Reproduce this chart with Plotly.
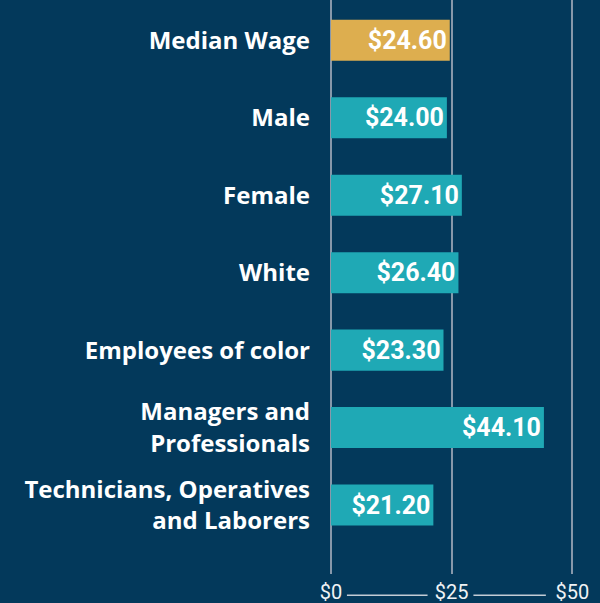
import plotly.graph_objects as go

categorias = ["Median Wage", "Male", "Female", "White", "Employees of color",
              "Managers and<br>Professionals", "Technicians, Operatives<br>and Laborers"]
salarios = [24.60, 24.00, 27.10, 26.40, 23.30, 44.10, 21.20]
etiquetas = ["$24.60", "$24.00", "$27.10", "$26.40", "$23.30", "$44.10", "$21.20"]
ticks_x = [0, 25, 50]
ticks_txt = ["$0", "$25", "$50"]

fondo = "#03395b"
colores = ["#ddae4f"] + ["#1fa9b5"] * (len(salarios) - 1)

fig = go.Figure()

fig.add_trace(go.Bar(
    x=salarios, y=categorias, orientation="h",
    marker=dict(color=colores, line=dict(width=0)),
    text=etiquetas, textposition="inside", insidetextanchor="end",
    textfont=dict(family="Roboto", size=25, color="white", weight="bold"),
    cliponaxis=False, showlegend=False,
))

# rayitas entre las etiquetas del eje x
for x0, x1 in [(3.3, 20.0), (29.5, 44.5)]:
    fig.add_shape(type="line", xref="x", yref="paper", x0=x0, x1=x1, y0=-0.037, y1=-0.037,
                  line=dict(color="#c3ccd5", width=1.5))

fig.update_layout(
    width=600, height=603,
    paper_bgcolor=fondo, plot_bgcolor=fondo,
    margin=dict(l=331, r=2, t=0, b=29),
    bargap=0.47,
    xaxis=dict(range=[0, 55.3], tickvals=ticks_x, ticktext=ticks_txt,
               showgrid=True, gridcolor="#8798aa", gridwidth=1.5,
               zeroline=True, zerolinecolor="#8798aa", zerolinewidth=1.5,
               showline=False, tickfont=dict(family="Roboto", size=20, color="#f0f3f5"),
               ticklabelstandoff=4, fixedrange=True),
    yaxis=dict(range=[6.89, -0.52], showgrid=False, zeroline=False, showline=False,
               tickfont=dict(family="Open Sans", size=24, color="white", weight="bold"),
               ticklabelstandoff=20),
)

fig.write_html("out.html", config={"displayModeBar": False},
               post_script="document.body.style.margin='0';")
